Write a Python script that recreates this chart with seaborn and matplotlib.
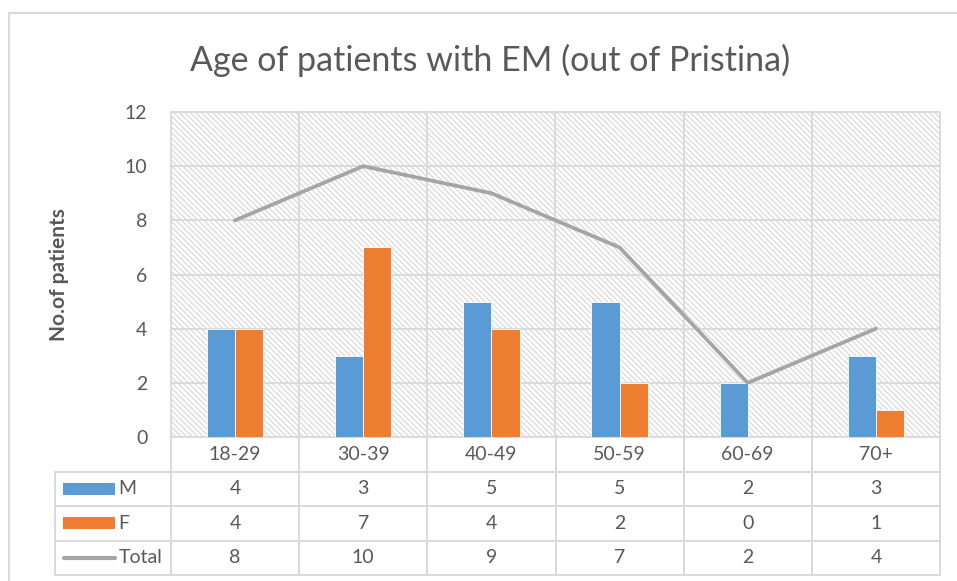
import pandas as pd
import seaborn as sns
import matplotlib.pyplot as plt
from matplotlib.patches import Rectangle
from matplotlib.lines import Line2D

# ---------------- data ----------------
age_groups = ["18-29", "30-39", "40-49", "50-59", "60-69", "70+"]
male = [4, 3, 5, 5, 2, 3]
female = [4, 7, 4, 2, 0, 1]
total = [8, 10, 9, 7, 2, 4]

series_names = ["M", "F", "Total"]
colors = {"M": "#5B9BD5", "F": "#ED7D31", "Total": "#A5A5A5"}
text_color = "#595959"
grid_color = "#D9D9D9"

df = pd.DataFrame({
    "Age": age_groups * 2,
    "Sex": ["M"] * len(age_groups) + ["F"] * len(age_groups),
    "Patients": male + female,
})

sns.set_theme(style="white")
plt.rcParams["font.family"] = ["Lato", "DejaVu Sans"]
plt.rcParams["hatch.linewidth"] = 0.8

W, H = 957, 581
fig = plt.figure(figsize=(W / 100, H / 100), dpi=100)
fig.patch.set_facecolor("white")

def fx(px):
    return px / W

def fy(py):
    return 1 - py / H

# plot area (pixels): x 171-940, y 112-437
ax = fig.add_axes([fx(171), fy(437), fx(940) - fx(171), (437 - 112) / H])

# hatched background
ax.add_patch(Rectangle((0, 0), 1, 1, transform=ax.transAxes, facecolor="white",
                       edgecolor="#D6D6D6", hatch="\\" * 6, lw=0, zorder=0))

sns.barplot(data=df, x="Age", y="Patients", hue="Sex", order=age_groups,
            hue_order=["M", "F"], palette=colors, width=0.44, gap=0,
            saturation=1, legend=False, ax=ax, zorder=3,
            edgecolor="white", linewidth=0.6)

ax.plot(range(len(age_groups)), total, color=colors["Total"], lw=2.7,
        solid_capstyle="round", solid_joinstyle="round", zorder=4)

ax.set_xlim(-0.5, len(age_groups) - 0.5)
ax.set_ylim(0, 12)
ax.set_yticks(range(0, 13, 2))
ax.set_xticks([])
ax.set_xlabel("")
ax.set_ylabel("")
ax.tick_params(axis="y", length=0, pad=17, labelsize=14, labelcolor=text_color)
for s in ax.spines.values():
    s.set_visible(False)

for yv in range(0, 13, 2):
    ax.axhline(yv, color=grid_color, lw=1.3, zorder=1, clip_on=False)
for k in range(len(age_groups) + 1):
    ax.axvline(k - 0.5, color=grid_color, lw=1.3, zorder=1, clip_on=False)

# ---------------- data table ----------------
col_w = (940 - 171) / len(age_groups)
left_x = -0.5 - (171 - 55) / col_w
tab = fig.add_axes([fx(55), fy(575), fx(940) - fx(55), (575 - 437) / H])
tab.set_xlim(left_x, len(age_groups) - 0.5)
tab.set_ylim(4, 0)
tab.axis("off")

lw_tab = 1.4
for r in range(1, 5):
    tab.plot([left_x, len(age_groups) - 0.5], [r, r], color=grid_color, lw=lw_tab,
             clip_on=False, solid_capstyle="butt")
tab.plot([left_x, left_x], [1, 4], color=grid_color, lw=lw_tab, clip_on=False)
for k in range(len(age_groups) + 1):
    tab.plot([k - 0.5, k - 0.5], [0, 4], color=grid_color, lw=lw_tab, clip_on=False)

for i, g in enumerate(age_groups):
    tab.text(i, 0.5, g, ha="center", va="center", fontsize=14, color=text_color)
rows = [male, female, total]
for r, vals in enumerate(rows, start=1):
    for i, v in enumerate(vals):
        tab.text(i, r + 0.5, str(v), ha="center", va="center", fontsize=14,
                 color=text_color)

# legend keys in the row headers
key_x = -0.5 - (171 - 62.7) / col_w
key_w = 52 / col_w
key_h = 12 / 34.5
for r, name in enumerate(series_names, start=1):
    if name == "Total":
        tab.plot([key_x + 0.01, key_x + key_w], [r + 0.5, r + 0.5], color=colors[name],
                 lw=3, solid_capstyle="round")
    else:
        tab.add_patch(Rectangle((key_x, r + 0.5 - key_h / 2), key_w, key_h,
                                color=colors[name], lw=0))
    tab.text(key_x + key_w + 0.03, r + 0.5, name, ha="left", va="center",
             fontsize=14, color=text_color)

# ---------------- titles and frame ----------------
fig.text(fx(490), fy(60), "Age of patients with EM (out of Pristina)", ha="center",
         va="center", fontsize=24.5, color=text_color)
fig.text(fx(59), fy(274.5), "No.of patients", rotation=90, ha="center", va="center",
         fontsize=15, fontweight="bold", color=text_color)

fig.add_artist(Line2D([fx(9), 1], [fy(13), fy(13)], color=grid_color, lw=1.5))
fig.add_artist(Line2D([fx(9), fx(9)], [fy(13), 0], color=grid_color, lw=1.5))

fig.savefig("out.png", dpi=100)
